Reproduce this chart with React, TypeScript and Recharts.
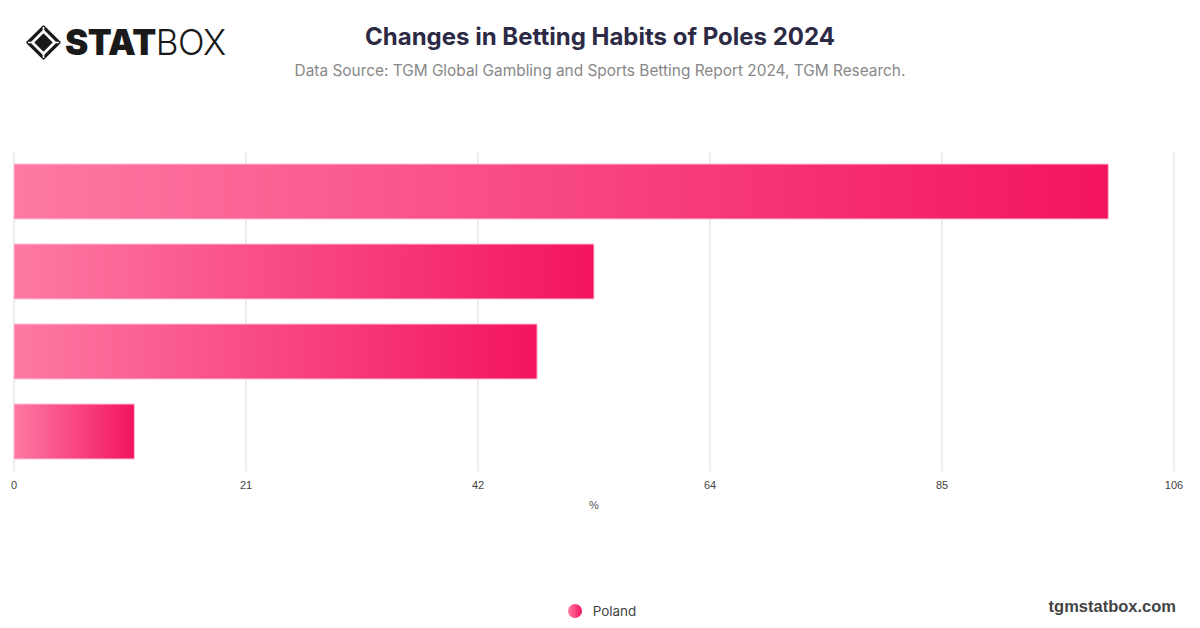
import { BarChart, Bar, XAxis, YAxis, CartesianGrid, Legend } from 'recharts';

const categories = ['Habit A', 'Habit B', 'Habit C', 'Habit D'];
const polandValues = [100, 53, 47.8, 11];
const xTicks = [0, 21.2, 42.4, 63.6, 84.8, 106];

const data = categories.map((name, i) => ({ name, Poland: polandValues[i] }));

function Logo() {
  return (
    <div style={{ position: 'absolute', left: 26, top: 21, display: 'flex', alignItems: 'center' }}>
      <svg width="35" height="35" viewBox="0 0 34 34">
        <path d="M17 2 L32 17 L17 32 L2 17 Z" fill="none" stroke="#1a1a1a" strokeWidth="3.2" strokeLinejoin="round" />
        <path d="M17 8 L26 17 L17 26 L8 17 Z" fill="#1a1a1a" />
        <path d="M17 2 L17 8 M32 17 L26 17 M17 32 L17 26 M2 17 L8 17" stroke="#fff" strokeWidth="1.6" />
      </svg>
      <span style={{ fontFamily: 'Inter', fontWeight: 900, fontSize: 35, color: '#1a1a1a', marginLeft: 4, letterSpacing: -0.5 }}>STAT</span>
      <span style={{ fontFamily: 'Inter', fontWeight: 300, fontSize: 35, color: '#1a1a1a', letterSpacing: -0.5 }}>BOX</span>
    </div>
  );
}

function LegendContent() {
  return (
    <div style={{ display: 'flex', justifyContent: 'center', alignItems: 'center', fontFamily: 'Inter', fontSize: 13.5, color: '#444' }}>
      <svg width="14" height="14" style={{ marginRight: 11, marginLeft: 4 }}>
        <defs>
          <linearGradient id="legendGrad" x1="0" y1="0" x2="1" y2="0">
            <stop offset="0%" stopColor="#ff7aa3" />
            <stop offset="100%" stopColor="#f3145f" />
          </linearGradient>
        </defs>
        <circle cx="7" cy="7" r="7" fill="url(#legendGrad)" />
      </svg>
      <span>Poland</span>
    </div>
  );
}

export default function App() {
  return (
    <div style={{ position: 'absolute', left: 0, top: 0, width: 1200, height: 628, background: '#fff', overflow: 'hidden' }}>
      <style>{'body{margin:0}'}</style>
      <Logo />
      <div style={{ position: 'absolute', top: 22, left: 0, width: 1200, textAlign: 'center', fontFamily: 'Inter', fontWeight: 700, fontSize: 24, color: '#2d2a46' }}>
        Changes in Betting Habits of Poles 2024
      </div>
      <div style={{ position: 'absolute', top: 61, left: 0, width: 1200, textAlign: 'center', fontFamily: 'Inter', fontSize: 15.4, color: '#888' }}>
        Data Source: TGM Global Gambling and Sports Betting Report 2024, TGM Research.
      </div>
      <div style={{ position: 'absolute', top: 0, left: 0 }}>
        <BarChart
          width={1200}
          height={628}
          data={data}
          layout="vertical"
          margin={{ top: 151, right: 26, left: 14, bottom: 95 }}
          barSize={55}
        >
          <defs>
            <linearGradient id="barGrad" x1="0" y1="0" x2="1" y2="0">
              <stop offset="0%" stopColor="#fd7aa3" />
              <stop offset="100%" stopColor="#f3145f" />
            </linearGradient>
          </defs>
          <CartesianGrid horizontal={false} stroke="#dcdcdc" />
          <XAxis
            type="number"
            domain={[0, 106]}
            ticks={xTicks}
            tickFormatter={(v) => String(Math.round(v))}
            axisLine={false}
            tickLine={false}
            tickSize={0}
            tickMargin={10}
            height={42}
            tick={{ fill: '#444', fontSize: 11, fontFamily: 'Liberation Sans' }}
            label={{ value: '%', position: 'insideBottom', offset: 4, fill: '#555', fontSize: 11, fontFamily: 'Liberation Sans' }}
          />
          <YAxis type="category" dataKey="name" width={0} tick={false} tickLine={false} axisLine={{ stroke: '#333' }} />
          <Legend
            verticalAlign="bottom"
            height={20}
            content={<LegendContent />}
            wrapperStyle={{ top: 603, bottom: 'auto', left: 0, width: 1200 }}
          />
          <Bar dataKey="Poland" name="Poland" fill="url(#barGrad)" stroke="#ffc2d5" strokeWidth={1} isAnimationActive={false} />
        </BarChart>
      </div>
      <div style={{ position: 'absolute', top: 597, right: 24, fontFamily: 'Liberation Sans', fontWeight: 700, fontSize: 16.5, color: '#444' }}>
        tgmstatbox.com
      </div>
    </div>
  );
}
